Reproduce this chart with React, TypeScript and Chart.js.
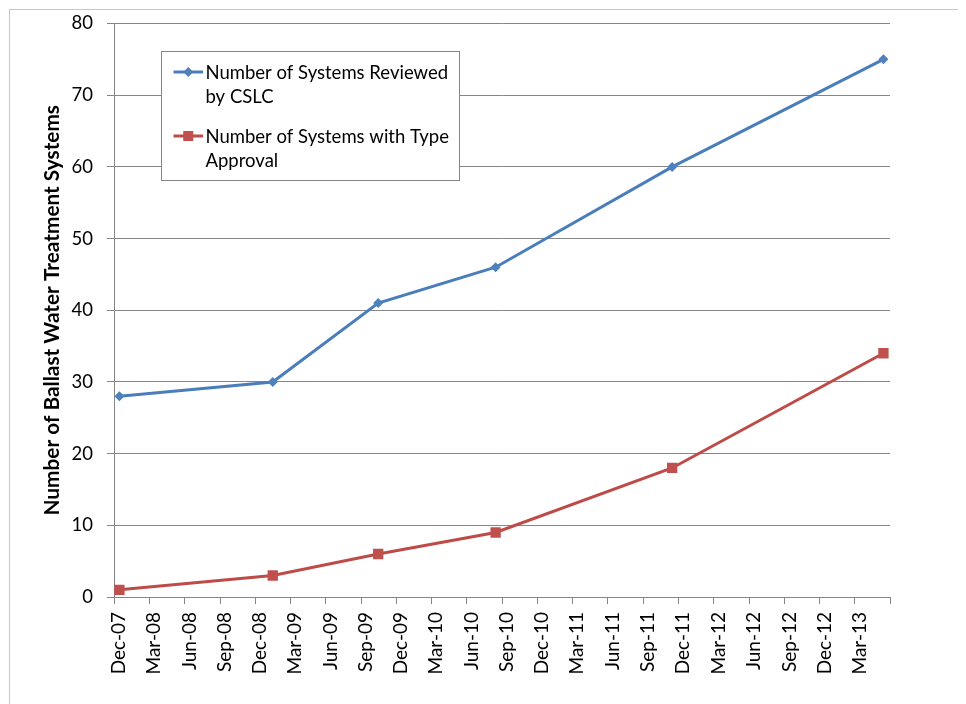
import React, { useEffect, useRef } from 'react';
import { Chart, registerables } from 'chart.js';

Chart.register(...registerables);

// ---- data ----
const TICK_LABELS = [
  'Dec-07', 'Mar-08', 'Jun-08', 'Sep-08', 'Dec-08', 'Mar-09', 'Jun-09', 'Sep-09',
  'Dec-09', 'Mar-10', 'Jun-10', 'Sep-10', 'Dec-10', 'Mar-11', 'Jun-11', 'Sep-11',
  'Dec-11', 'Mar-12', 'Jun-12', 'Sep-12', 'Dec-12', 'Mar-13',
];
const AXIS_END = 'Jun-13';
const DATES = ['2007-12-15', '2009-01-15', '2009-10-15', '2010-08-15', '2011-11-15', '2013-05-15'];
const REVIEWED = [28, 30, 41, 46, 60, 75];
const APPROVED = [1, 3, 6, 9, 18, 34];
const SERIES_LABELS = [
  ['Number of Systems Reviewed', 'by CSLC'],
  ['Number of Systems with Type', 'Approval'],
];
const Y_TITLE = 'Number of Ballast Water Treatment Systems';
const Y_MIN = 0;
const Y_MAX = 80;
const Y_STEP = 10;

// ---- style ----
const BLUE_LINE = '#4A7EBB';
const BLUE_FILL = '#4F81BD';
const RED_LINE = '#BE4B48';
const RED_FILL = '#C0504D';
const GRID = '#868686';
const FONT = 'Lato, "Open Sans", sans-serif';

const MONTHS = ['Jan', 'Feb', 'Mar', 'Apr', 'May', 'Jun', 'Jul', 'Aug', 'Sep', 'Oct', 'Nov', 'Dec'];
const DAY = 86400000;
function labelToDay(l: string): number {
  const [m, y] = l.split('-');
  return Date.UTC(2000 + Number(y), MONTHS.indexOf(m), 1) / DAY;
}
function isoToDay(s: string): number {
  const [y, m, d] = s.split('-').map(Number);
  return Date.UTC(y, m - 1, d) / DAY;
}

export default function App() {
  const ref = useRef<HTMLCanvasElement>(null);

  useEffect(() => {
    const canvas = ref.current!;
    Chart.defaults.font.family = FONT;
    const tickValues = [...TICK_LABELS, AXIS_END].map(labelToDay);

    const legendPlugin = {
      id: 'boxLegend',
      afterDraw(chart: any) {
        const ctx = chart.ctx as CanvasRenderingContext2D;
        const ca = chart.chartArea;
        const bx = Math.floor(ca.left + 47) + 0.5;
        const by = Math.floor(ca.top + 28) + 0.5;
        const bw = 298;
        const bh = 129;
        ctx.save();
        ctx.fillStyle = '#ffffff';
        ctx.fillRect(bx, by, bw, bh);
        ctx.strokeStyle = GRID;
        ctx.lineWidth = 1;
        ctx.strokeRect(bx, by, bw, bh);
        ctx.font = `18.5px ${FONT}`;
        ctx.textBaseline = 'alphabetic';
        ctx.textAlign = 'left';
        chart.data.datasets.forEach((ds: any, i: number) => {
          const base = by + 27 + i * 64;
          const midY = base - 6.5;
          const lx0 = bx + 12;
          const lx1 = bx + 41.5;
          const cx = (lx0 + lx1) / 2;
          ctx.strokeStyle = ds.borderColor;
          ctx.lineWidth = 3;
          ctx.beginPath();
          ctx.moveTo(lx0, midY);
          ctx.lineTo(lx1, midY);
          ctx.stroke();
          ctx.fillStyle = ds.pointBackgroundColor;
          ctx.beginPath();
          if (ds.pointStyle === 'rectRot') {
            const r = 5;
            ctx.moveTo(cx - r, midY);
            ctx.lineTo(cx, midY - r);
            ctx.lineTo(cx + r, midY);
            ctx.lineTo(cx, midY + r);
            ctx.closePath();
          } else {
            const h = 5;
            ctx.rect(cx - h, midY - h, 2 * h, 2 * h);
          }
          ctx.fill();
          ctx.fillStyle = '#000';
          SERIES_LABELS[i].forEach((line, j) => {
            ctx.fillText(line, bx + 44, base + j * 24.5);
          });
        });
        ctx.restore();
      },
    };

    const chart = new Chart(canvas, {
      type: 'line',
      data: {
        datasets: [
          {
            label: SERIES_LABELS[0].join(' '),
            data: DATES.map((d, i) => ({ x: isoToDay(d), y: REVIEWED[i] })),
            borderColor: BLUE_LINE,
            backgroundColor: BLUE_FILL,
            pointBackgroundColor: BLUE_FILL,
            pointStyle: 'rectRot',
            pointRadius: 5,
            pointBorderWidth: 0,
            borderWidth: 3,
            tension: 0,
          },
          {
            label: SERIES_LABELS[1].join(' '),
            data: DATES.map((d, i) => ({ x: isoToDay(d), y: APPROVED[i] })),
            borderColor: RED_LINE,
            backgroundColor: RED_FILL,
            pointBackgroundColor: RED_FILL,
            pointStyle: 'rect',
            pointRadius: 7.3,
            pointBorderWidth: 0,
            borderWidth: 3,
            tension: 0,
          },
        ] as any,
      },
      options: {
        animation: false,
        responsive: false,
        devicePixelRatio: 1,
        layout: { autoPadding: false, padding: { top: 13.5, right: 76, left: 0, bottom: 0 } },
        plugins: { legend: { display: false }, tooltip: { enabled: false } },
        scales: {
          x: {
            type: 'linear',
            min: tickValues[0],
            max: tickValues[tickValues.length - 1],
            afterBuildTicks: (s: any) => {
              s.ticks = tickValues.map((v) => ({ value: v }));
            },
            afterFit: (s: any) => {
              s.height = 107;
              s.paddingLeft = 0;
              s.paddingRight = 0;
            },
            grid: { drawOnChartArea: false, tickLength: 7, color: GRID },
            border: { color: GRID },
            ticks: {
              autoSkip: false,
              minRotation: 90,
              maxRotation: 90,
              padding: 8,
              labelOffset: 5,
              color: '#000',
              font: { size: 19 },
              callback: (_v: any, i: number) => TICK_LABELS[i] ?? '',
            },
          },
          y: {
            min: Y_MIN,
            max: Y_MAX,
            afterFit: (s: any) => {
              s.width = 104;
              s.paddingTop = 0;
              s.paddingBottom = 0;
            },
            grid: { color: GRID, tickLength: 7 },
            border: { color: GRID },
            ticks: { stepSize: Y_STEP, padding: 14, color: '#000', font: { size: 18.5 } },
            title: {
              display: true,
              text: Y_TITLE,
              color: '#000',
              font: { size: 20.8, weight: 'bold' },
              padding: { top: 29.5, bottom: 0 },
            },
          },
        },
      } as any,
      plugins: [legendPlugin],
    });
    return () => chart.destroy();
  }, []);

  return (
    <div
      style={{
        width: 957,
        height: 695,
        marginLeft: 1,
        marginTop: 1,
        boxSizing: 'border-box',
        borderLeft: '1px solid #c8c8c8',
        borderTop: '1px solid #c8c8c8',
        background: '#fff',
      }}
    >
      <canvas ref={ref} width={956} height={694} style={{ display: 'block' }} />
    </div>
  );
}
